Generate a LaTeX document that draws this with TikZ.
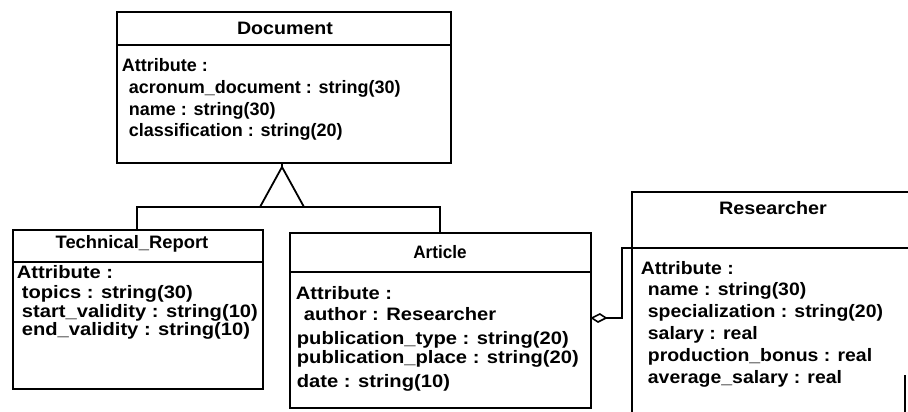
\documentclass[tikz,border=0pt]{standalone}
\usepackage{fontspec}
\usepackage{graphicx}
\setmainfont{Liberation Sans}
\newfontfamily\wideA[FakeStretch=1.12]{Liberation Sans}
\newfontfamily\wideB[FakeStretch=1.08]{Liberation Sans}
\begin{document}
\begin{tikzpicture}[x=1pt,y=-1pt,
  line width=1.8pt, line join=miter,
  classbox/.style={draw, rectangle, anchor=north west, inner sep=0pt},
  title/.style={font=\fontsize{18}{20}\selectfont\bfseries, inner sep=0pt},
  ln/.style={font=\fontsize{18}{20}\selectfont\bfseries, inner sep=0pt, anchor=base west},
  lnA/.style={ln, font=\fontsize{18}{20}\wideA\bfseries},
  lnB/.style={ln, font=\fontsize{18}{20}\wideB\bfseries}]
\useasboundingbox (0,0) rectangle (908,412);

% ---- Document ----
\node[classbox, minimum width=334pt, minimum height=151pt] (doc) at (116,11) {};
\draw (doc.north west) ++(0,34) -- ++(334,0);
\node[title] (doctitle) at (285,28) {\scalebox{1.09}[1]{Document}};
\node[ln] (doc1) at (121,71)  {Attribute :};
\node[ln] (doc2) at (128,94)  {acronum\_document : string(30)};
\node[ln] (doc3) at (128,115) {name : string(30)};
\node[ln] (doc4) at (128,136) {classification : string(20)};

% ---- Technical_Report ----
\node[classbox, minimum width=250pt, minimum height=159pt] (tech) at (12,229) {};
\draw (tech.north west) ++(0,33) -- ++(250,0);
\node[title] (techtitle) at (132,244) {\scalebox{1.02}[1]{Technical\_Report}};
\node[lnA] (tech1) at (16,278) {Attribute :};
\node[lnA] (tech2) at (21,298) {topics : string(30)};
\node[lnA] (tech3) at (21,317) {start\_validity : string(10)};
\node[lnA] (tech4) at (21,335) {end\_validity : string(10)};

% ---- Article ----
\node[classbox, minimum width=301pt, minimum height=175pt] (art) at (289,232) {};
\draw (art.north west) ++(0,40) -- ++(301,0);
\node[title] (arttitle) at (440,252) {\scalebox{0.95}[1]{Article}};
\node[lnA] (art1) at (295,299) {Attribute :};
\node[lnA] (art2) at (303,320) {author : Researcher};
\node[lnA] (art3) at (296,344) {publication\_type : string(20)};
\node[lnA] (art4) at (296,363) {publication\_place : string(20)};
\node[lnA] (art5) at (296,387) {date : string(10)};

% ---- Researcher (runs past the right edge) ----
\coordinate (resNW) at (632,192);
\coordinate (resNE) at (912,192);
\draw (resNE) -- (resNW) -- (632,414);
\draw (632,248) -- (912,248);
\draw (905,375) -- (905,414);
\node[title] (restitle) at (773,208) {\scalebox{1.1}[1]{Researcher}};
\node[lnB] (res1) at (640,274) {Attribute :};
\node[lnB] (res2) at (647,295) {name : string(30)};
\node[lnB] (res3) at (647,317) {specialization : string(20)};
\node[lnB] (res4) at (647,339) {salary : real};
\node[lnB] (res5) at (647,361) {production\_bonus : real};
\node[lnB] (res6) at (647,383) {average\_salary : real};

% ---- Generalization: Technical_Report, Article -> Document ----
\coordinate (apex) at (282,167);
\coordinate (baseL) at (260,207);
\coordinate (baseR) at (304,207);
\draw (doc.south -| apex) -- (apex);
\draw (baseL) -- (apex) -- (baseR);
\coordinate (busL) at (137,207);
\coordinate (busR) at (440,207);
\draw (tech.north -| busL) -- (busL) -- (busR) -- (art.north -| busR);

% ---- Aggregation: Article <>- Researcher ----
\coordinate (dmR) at (606,318);
\draw[line width=1.6pt] (art.east |- dmR) -- ++(8,-4) -- (dmR) -- ++(-8,4) -- cycle;
\draw (dmR) -- (622,318) -- (622,248) -- (resNW |- 0,248);
\end{tikzpicture}
\end{document}
